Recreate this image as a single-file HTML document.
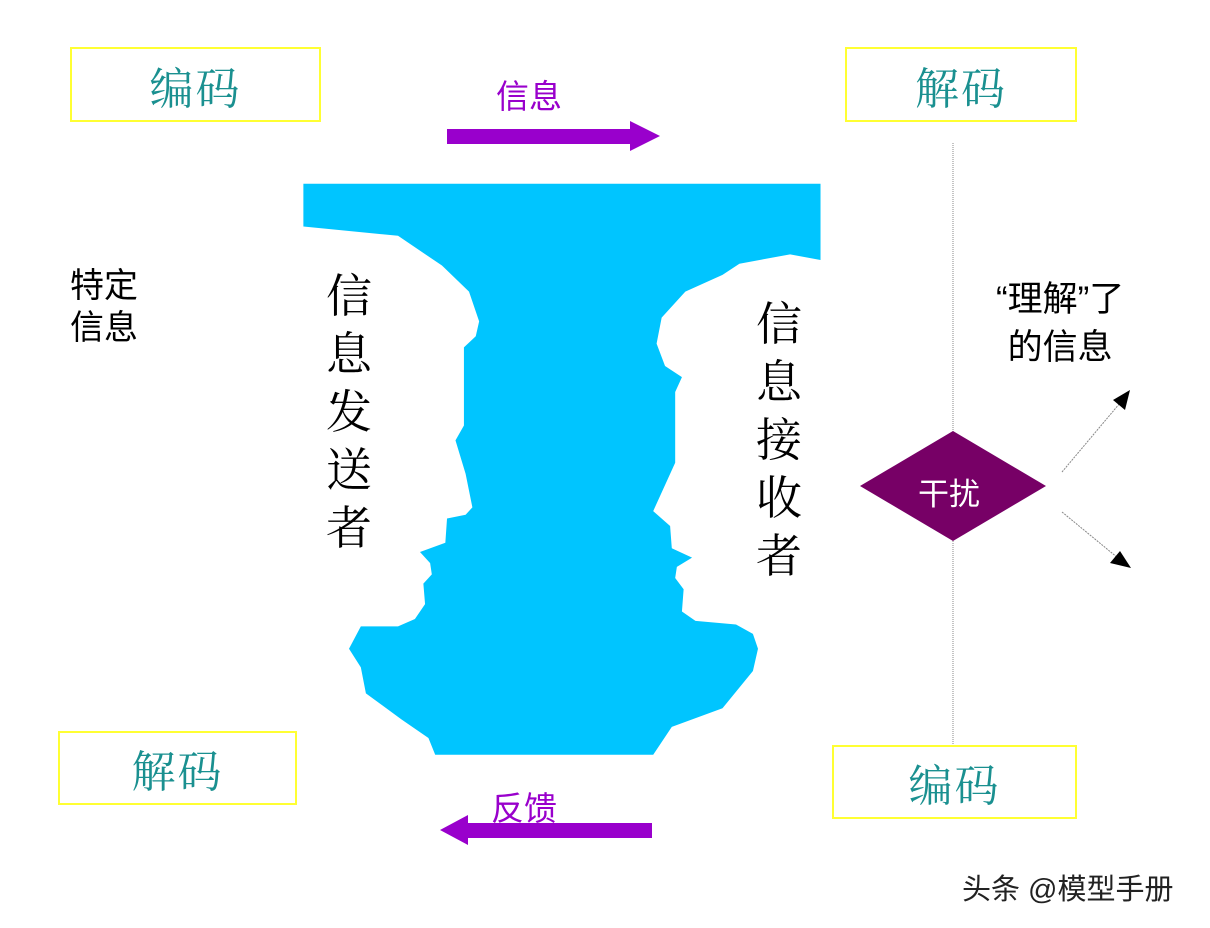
<!DOCTYPE html>
<html><head><meta charset="utf-8"><style>
body{margin:0;background:#fff;width:1210px;height:928px;overflow:hidden;position:relative;font-family:"Liberation Sans","Noto Sans CJK SC",sans-serif}
.box{position:absolute;border:2px solid #ffff33;box-sizing:border-box;color:#1a9090;font-family:"Liberation Serif","Noto Serif CJK SC",serif;font-size:44px;display:flex;align-items:center;justify-content:center;letter-spacing:2px}
.t{position:absolute;white-space:nowrap}
</style></head><body>
<div class="box" style="left:70px;top:47px;width:251px;height:75px">编码</div>
<div class="box" style="left:845px;top:47px;width:232px;height:75px">解码</div>
<div class="box" style="left:58px;top:731px;width:239px;height:74px">解码</div>
<div class="box" style="left:832px;top:745px;width:245px;height:74px">编码</div>
<svg width="1210" height="928" style="position:absolute;left:0;top:0">
<polygon points="447,129 630,129 630,121 660,136 630,151 630,144 447,144" fill="#9900cc"/>
<polygon points="652,823 468,823 468,815 440,830 468,845 468,838 652,838" fill="#9900cc"/>
<g transform="translate(300,180) scale(0.338,0.372)">
<path fill="#00c5ff" d="M10,10 L1540,10 L1540,215 L1450,200 L1300,225 L1250,255 L1140,300 L1070,370 L1055,440 L1080,500 L1130,530 L1110,570 L1110,760 L1045,890 L1095,930 L1100,990 L1160,1015 L1115,1040 L1110,1070 L1135,1100 L1130,1160 L1170,1185 L1290,1195 L1340,1220 L1355,1260 L1340,1320 L1250,1420 L1100,1470 L1045,1545 L400,1545 L380,1500 L300,1450 L195,1380 L180,1310 L145,1260 L180,1200 L290,1200 L340,1180 L370,1140 L365,1085 L390,1060 L385,1030 L355,1000 L430,975 L435,910 L490,900 L510,880 L490,790 L460,700 L485,660 L485,450 L520,420 L530,380 L500,300 L420,230 L290,150 L10,125 Z"/>
</g>
<line x1="953" y1="143" x2="953" y2="745" stroke="#888" stroke-width="1" stroke-dasharray="1,1"/>
<polygon points="953,431 1046,486 953,541 860,486" fill="#770066"/>
<line x1="1062" y1="472" x2="1120" y2="403" stroke="#888" stroke-width="1" stroke-dasharray="2,1"/>
<polygon points="1130,390 1125,410 1113,400" fill="#000"/>
<line x1="1062" y1="512" x2="1118" y2="558" stroke="#888" stroke-width="1" stroke-dasharray="2,1"/>
<polygon points="1131,568 1110,563 1120,551" fill="#000"/>
</svg>
<div class="t" style="left:496px;top:70px;font-size:33px;color:#9900cc">信息</div>
<div class="t" style="left:491px;top:782px;font-size:33px;color:#9900cc">反馈</div>
<div class="t" style="left:70px;top:265px;font-size:34px;line-height:42px">特定<br>信息</div>
<div class="t" style="left:326px;top:268px;font-size:46px;line-height:58px;font-family:'Liberation Serif','Noto Serif CJK SC',serif;width:48px;white-space:normal">信息发送者</div>
<div class="t" style="left:756px;top:296px;font-size:46px;line-height:58px;font-family:'Liberation Serif','Noto Serif CJK SC',serif;width:48px;white-space:normal">信息接收者</div>
<div class="t" style="left:996px;top:276px;font-size:35px;line-height:48px;text-align:center">“理解”了<br>的信息</div>
<div class="t" style="left:918px;top:469px;font-size:31px;color:#fff">干扰</div>
<div class="t" style="left:962px;top:866px;font-size:29px;color:#222">头条 @模型手册</div>
</body></html>
